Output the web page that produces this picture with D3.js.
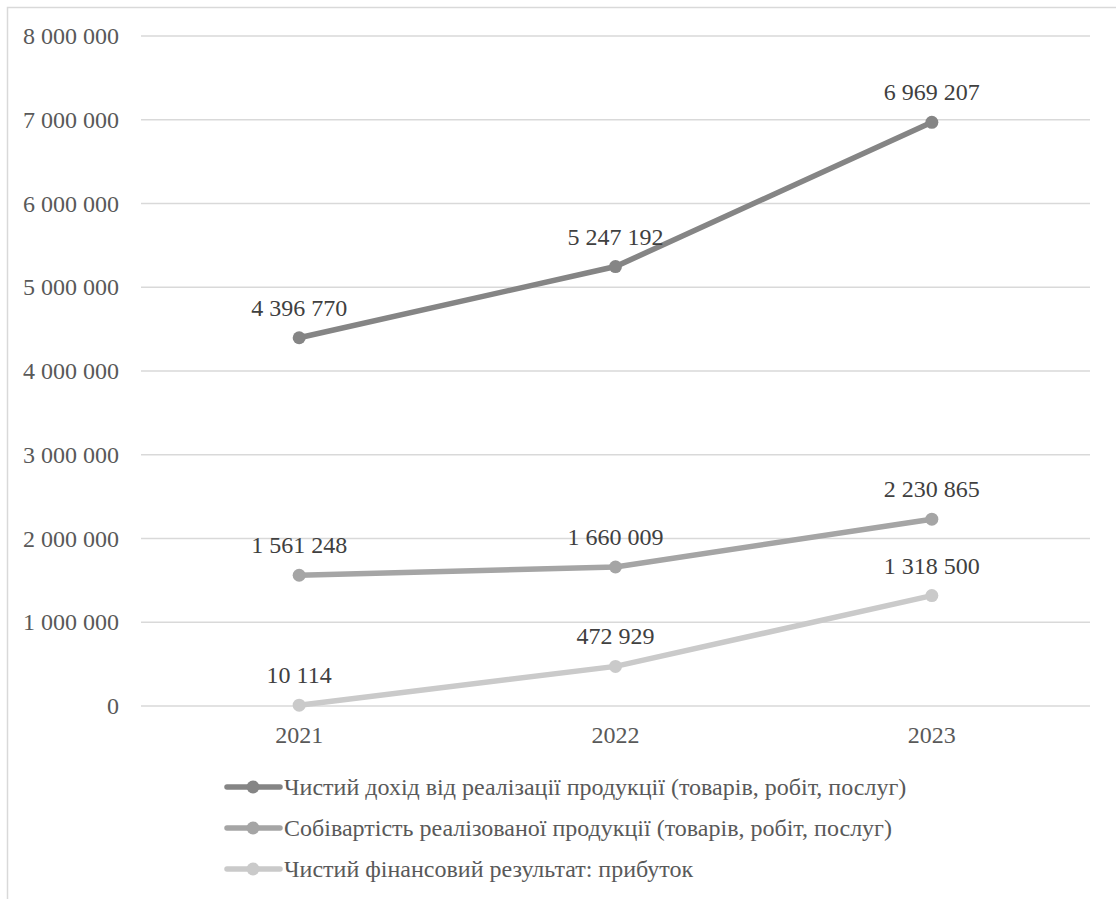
<!DOCTYPE html>
<html><head><meta charset="utf-8">
<script src="https://cdn.jsdelivr.net/npm/d3@7"></script>
<style>body{margin:0;background:#fff}svg{display:block}</style>
</head><body>
<svg id="c" width="1116" height="899"></svg>
<script>
const years = ["2021","2022","2023"];
const seriesNames = [
  "Чистий дохід від реалізації продукції (товарів, робіт, послуг)",
  "Собівартість реалізованої продукції (товарів, робіт, послуг)",
  "Чистий фінансовий результат: прибуток"
];
const revenue = [4396770, 5247192, 6969207];
const cost = [1561248, 1660009, 2230865];
const profit = [10114, 472929, 1318500];
const yTicks = [0,1000000,2000000,3000000,4000000,5000000,6000000,7000000,8000000];
const colors = ["#858585","#a5a5a5","#cacaca"];

const series = [revenue, cost, profit];
const svg = d3.select("#c");
const FS = 24;
const FF = '"Liberation Serif"';

svg.append("rect").attr("x",7.5).attr("y",7.5).attr("width",1200).attr("height",1000)
  .attr("fill","none").attr("stroke","#d9d9d9").attr("stroke-width",1.5);

const x = d3.scaleBand().domain(years).range([141,1090]);
const y = d3.scaleLinear().domain([0,8000000]).range([706,36]);
const fmt = v => d3.format(",")(v).replace(/,/g," ");

svg.append("g").selectAll("line").data(yTicks).join("line")
  .attr("x1",141).attr("x2",1090).attr("y1",d=>y(d)).attr("y2",d=>y(d))
  .attr("stroke","#d9d9d9").attr("stroke-width",1.5);

const yAxis = svg.append("g").attr("transform","translate(141,0)")
  .call(d3.axisLeft(y).tickValues(yTicks).tickFormat(fmt).tickSize(0).tickPadding(22));
yAxis.select(".domain").remove();
yAxis.selectAll("text").style("font-family",FF).style("font-size",FS+"px").attr("fill","#595959");

const xAxis = svg.append("g").attr("transform","translate(0,706)")
  .call(d3.axisBottom(x).tickSize(0).tickPadding(20));
xAxis.select(".domain").remove();
xAxis.selectAll("text").style("font-family",FF).style("font-size",FS+"px").attr("fill","#595959");

const cx = d => x(d)+x.bandwidth()/2;
const line = d3.line().x((d,i)=>cx(years[i])).y(d=>y(d));

series.forEach((s,k)=>{
  const g = svg.append("g");
  g.append("path").datum(s).attr("d",line).attr("fill","none")
    .attr("stroke",colors[k]).attr("stroke-width",5.5).attr("stroke-linecap","round");
  g.selectAll("circle").data(s).join("circle")
    .attr("cx",(d,i)=>cx(years[i])).attr("cy",d=>y(d)).attr("r",6.5).attr("fill",colors[k]);
  g.selectAll("text").data(s).join("text")
    .attr("x",(d,i)=>cx(years[i])).attr("y",d=>y(d)-22)
    .attr("text-anchor","middle").style("font-family",FF).style("font-size",FS+"px")
    .attr("fill","#404040").text(fmt);
});

const lg = svg.append("g");
seriesNames.forEach((n,k)=>{
  const ly = 787 + k*41;
  lg.append("line").attr("x1",227).attr("x2",280).attr("y1",ly).attr("y2",ly)
    .attr("stroke",colors[k]).attr("stroke-width",5.5).attr("stroke-linecap","round");
  lg.append("circle").attr("cx",253).attr("cy",ly).attr("r",6.5).attr("fill",colors[k]);
  lg.append("text").attr("x",284).attr("y",ly).attr("dy","0.35em")
    .style("font-family",FF).style("font-size",FS+"px").attr("fill","#595959").text(n);
});
</script>
</body></html>
